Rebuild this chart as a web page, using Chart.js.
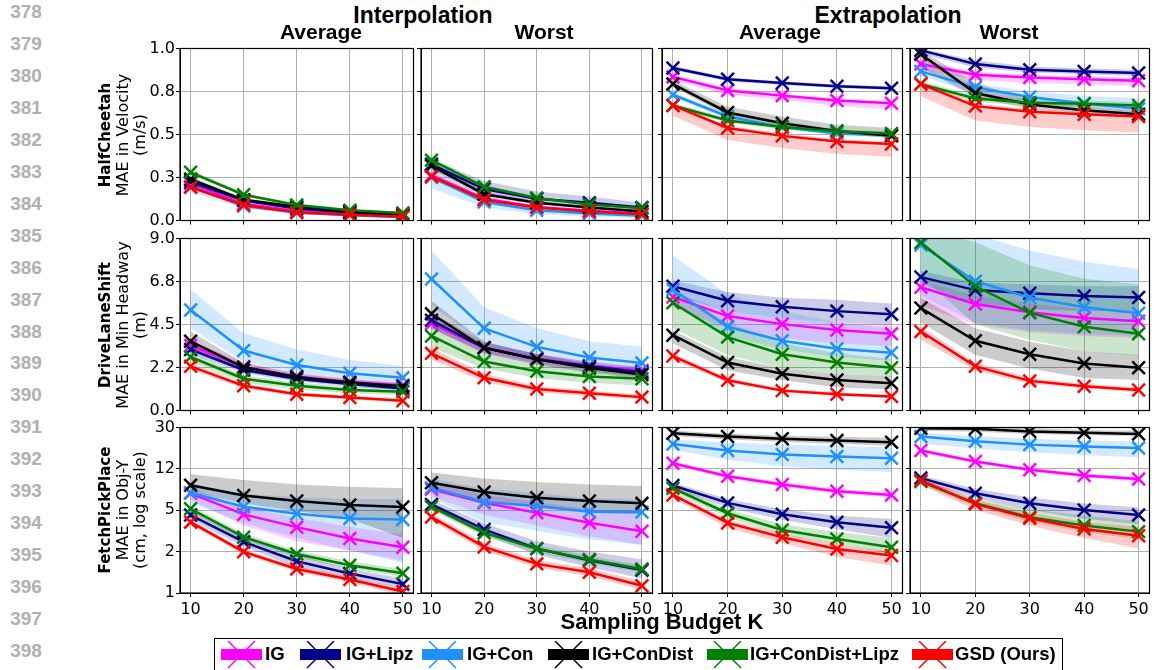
<!DOCTYPE html>
<html>
<head>
<meta charset="utf-8">
<script src="https://cdn.jsdelivr.net/npm/chart.js@4.4.1/dist/chart.umd.min.js"></script>
<style>
  html, body { margin: 0; padding: 0; background: #fff; }
  body { width: 1155px; height: 670px; overflow: hidden; position: relative; font-family: 'DejaVu Sans', sans-serif; }
  canvas { position: absolute; }
  .ln { position: absolute; left: 6px; width: 40px; text-align: center; font: bold 19px 'Liberation Sans', sans-serif; color: #b0b0b0; transform: translateY(-50%); }
  .title { position: absolute; transform: translate(-50%, -50%); font-family: 'Liberation Sans', sans-serif; font-weight: bold; color: #000; white-space: nowrap; }
  .rowlab { position: absolute; transform: translate(-50%, -50%) rotate(-90deg); text-align: center; white-space: nowrap; font: 16px/17px 'DejaVu Sans', sans-serif; color: #000; }
  .rowlab b { font-size: 15px; }
  .legbox { position: absolute; left: 214px; top: 638px; width: 849px; height: 34px; border: 1px solid #000; box-sizing: border-box; background: #fff; }
  .legtxt { position: absolute; top: 654px; transform: translateY(-50%); font: bold 18.5px 'Liberation Sans', sans-serif; color: #000; white-space: nowrap; }
</style>
</head>
<body>
<script>
// Sampling budgets on the x axis
const K = [10, 20, 30, 40, 50];
const METHODS = ['IG', 'IG+Lipz', 'IG+Con', 'IG+ConDist', 'IG+ConDist+Lipz', 'GSD (Ours)'];
const COLORS = ['#ff00ff', '#000088', '#1e90ff', '#000000', '#008000', '#ff0000'];
const BAND_COLORS = ['rgba(255,0,255,0.2)', 'rgba(0,0,136,0.2)', 'rgba(30,144,255,0.2)',
                     'rgba(0,0,0,0.2)', 'rgba(0,128,0,0.2)', 'rgba(255,0,0,0.2)'];

// Y tick values and their printed labels, one pair per task row
const HC_TICKS = [0, 0.25, 0.5, 0.75, 1];
const HC_TICK_LABELS = ['0.0', '0.3', '0.5', '0.8', '1.0'];
const DLS_TICKS = [0, 2.25, 4.5, 6.75, 9];
const DLS_TICK_LABELS = ['0.0', '2.2', '4.5', '6.8', '9.0'];
const FPP_TICKS = [1, 2.3403, 5.4772, 12.8184, 30];
const FPP_TICK_LABELS = ['1', '2', '5', '12', '30'];

// ---- HalfCheetah: MAE in velocity (m/s); rows follow METHODS ----
const hcInterpAvg = [
  [0.215, 0.097, 0.056, 0.037, 0.028],
  [0.225, 0.116, 0.070, 0.047, 0.032],
  [0.196, 0.084, 0.047, 0.030, 0.019],
  [0.240, 0.120, 0.080, 0.052, 0.034],
  [0.280, 0.150, 0.090, 0.060, 0.043],
  [0.193, 0.090, 0.047, 0.034, 0.022]];
const hcInterpAvgLo = [
  [0.200, 0.088, 0.050, 0.032, 0.024],
  [0.210, 0.107, 0.064, 0.042, 0.028],
  [0.165, 0.070, 0.038, 0.024, 0.014],
  [0.225, 0.110, 0.073, 0.047, 0.030],
  [0.265, 0.140, 0.084, 0.055, 0.039],
  [0.180, 0.083, 0.043, 0.030, 0.019]];
const hcInterpAvgHi = [
  [0.230, 0.106, 0.062, 0.042, 0.032],
  [0.240, 0.125, 0.076, 0.052, 0.036],
  [0.215, 0.094, 0.054, 0.035, 0.024],
  [0.255, 0.130, 0.087, 0.057, 0.038],
  [0.295, 0.160, 0.096, 0.065, 0.047],
  [0.206, 0.097, 0.051, 0.038, 0.025]];

const hcInterpWorst = [
  [0.262, 0.127, 0.078, 0.056, 0.041],
  [0.327, 0.183, 0.127, 0.103, 0.075],
  [0.252, 0.108, 0.060, 0.041, 0.028],
  [0.318, 0.153, 0.103, 0.075, 0.052],
  [0.351, 0.196, 0.131, 0.093, 0.071],
  [0.256, 0.121, 0.075, 0.052, 0.037]];
const hcInterpWorstLo = [
  [0.240, 0.115, 0.070, 0.050, 0.036],
  [0.300, 0.160, 0.105, 0.080, 0.055],
  [0.187, 0.075, 0.037, 0.022, 0.015],
  [0.295, 0.140, 0.093, 0.067, 0.046],
  [0.335, 0.185, 0.123, 0.087, 0.066],
  [0.235, 0.110, 0.068, 0.047, 0.033]];
const hcInterpWorstHi = [
  [0.285, 0.140, 0.087, 0.063, 0.047],
  [0.355, 0.230, 0.168, 0.140, 0.103],
  [0.300, 0.140, 0.085, 0.060, 0.045],
  [0.340, 0.167, 0.113, 0.083, 0.058],
  [0.365, 0.207, 0.139, 0.099, 0.076],
  [0.275, 0.132, 0.082, 0.057, 0.041]];

const hcExtrapAvg = [
  [0.835, 0.756, 0.726, 0.697, 0.682],
  [0.887, 0.821, 0.799, 0.780, 0.769],
  [0.731, 0.605, 0.543, 0.506, 0.496],
  [0.793, 0.628, 0.566, 0.521, 0.492],
  [0.669, 0.581, 0.543, 0.519, 0.506],
  [0.669, 0.538, 0.492, 0.459, 0.445]];
const hcExtrapAvgLo = [
  [0.815, 0.730, 0.700, 0.665, 0.647],
  [0.875, 0.810, 0.788, 0.770, 0.758],
  [0.715, 0.590, 0.530, 0.495, 0.483],
  [0.775, 0.610, 0.550, 0.505, 0.478],
  [0.655, 0.568, 0.530, 0.507, 0.494],
  [0.609, 0.468, 0.421, 0.387, 0.370]];
const hcExtrapAvgHi = [
  [0.850, 0.770, 0.740, 0.710, 0.695],
  [0.900, 0.832, 0.810, 0.790, 0.780],
  [0.745, 0.620, 0.556, 0.518, 0.508],
  [0.816, 0.662, 0.605, 0.556, 0.538],
  [0.683, 0.594, 0.556, 0.531, 0.518],
  [0.684, 0.553, 0.506, 0.473, 0.460]];

const hcExtrapWorst = [
  [0.910, 0.848, 0.831, 0.821, 0.812],
  [0.989, 0.910, 0.876, 0.867, 0.857],
  [0.867, 0.774, 0.718, 0.680, 0.650],
  [0.966, 0.741, 0.675, 0.641, 0.618],
  [0.793, 0.709, 0.684, 0.679, 0.669],
  [0.793, 0.665, 0.632, 0.618, 0.605]];
const hcExtrapWorstLo = [
  [0.880, 0.815, 0.800, 0.790, 0.780],
  [0.970, 0.890, 0.860, 0.850, 0.840],
  [0.840, 0.740, 0.690, 0.655, 0.625],
  [0.890, 0.715, 0.650, 0.620, 0.598],
  [0.775, 0.690, 0.665, 0.660, 0.650],
  [0.722, 0.581, 0.543, 0.524, 0.511]];
const hcExtrapWorstHi = [
  [0.930, 0.865, 0.848, 0.838, 0.830],
  [1.000, 0.930, 0.895, 0.885, 0.875],
  [0.890, 0.797, 0.750, 0.725, 0.712],
  [0.990, 0.800, 0.700, 0.662, 0.640],
  [0.810, 0.728, 0.703, 0.698, 0.688],
  [0.810, 0.680, 0.648, 0.634, 0.620]];

// ---- DriveLaneShift: MAE in min headway (m) ----
const dlsInterpAvg = [
  [3.40, 2.29, 1.78, 1.49, 1.32],
  [3.19, 2.12, 1.66, 1.38, 1.15],
  [5.26, 3.14, 2.38, 1.95, 1.71],
  [3.62, 2.26, 1.75, 1.46, 1.27],
  [2.80, 1.66, 1.29, 1.07, 0.98],
  [2.31, 1.29, 0.85, 0.68, 0.51]];
const dlsInterpAvgLo = [
  [3.15, 2.10, 1.62, 1.35, 1.18],
  [2.95, 1.95, 1.52, 1.26, 1.04],
  [4.30, 2.55, 1.95, 1.60, 1.40],
  [3.30, 2.05, 1.58, 1.32, 1.14],
  [2.55, 1.45, 1.10, 0.90, 0.80],
  [2.15, 1.17, 0.74, 0.58, 0.42]];
const dlsInterpAvgHi = [
  [3.65, 2.50, 1.95, 1.65, 1.47],
  [3.45, 2.30, 1.80, 1.50, 1.27],
  [6.33, 4.04, 3.19, 2.65, 2.31],
  [4.13, 2.50, 1.94, 1.62, 1.42],
  [3.05, 1.85, 1.47, 1.25, 1.15],
  [2.48, 1.42, 0.96, 0.78, 0.61]];

const dlsInterpWorst = [
  [4.55, 3.28, 2.72, 2.34, 2.09],
  [4.72, 3.28, 2.68, 2.31, 2.00],
  [6.88, 4.30, 3.33, 2.77, 2.48],
  [5.06, 3.28, 2.68, 2.22, 1.88],
  [3.90, 2.56, 2.05, 1.78, 1.66],
  [2.99, 1.71, 1.12, 0.90, 0.70]];
const dlsInterpWorstLo = [
  [4.25, 3.05, 2.50, 2.15, 1.90],
  [4.35, 3.00, 2.40, 2.05, 1.75],
  [5.50, 3.50, 2.70, 2.30, 2.10],
  [4.30, 2.95, 2.40, 1.98, 1.65],
  [3.30, 2.20, 1.70, 1.45, 1.30],
  [2.65, 1.50, 0.95, 0.75, 0.58]];
const dlsInterpWorstHi = [
  [4.85, 3.50, 2.95, 2.55, 2.30],
  [5.10, 3.60, 2.95, 2.55, 2.25],
  [8.37, 5.40, 4.30, 3.62, 3.33],
  [5.74, 3.60, 2.95, 2.45, 2.10],
  [4.40, 2.95, 2.40, 2.10, 1.95],
  [3.30, 1.92, 1.28, 1.05, 0.83]];

const dlsExtrapAvg = [
  [5.94, 4.94, 4.52, 4.21, 4.01],
  [6.50, 5.74, 5.43, 5.20, 5.03],
  [6.33, 4.38, 3.65, 3.23, 3.02],
  [3.94, 2.51, 1.92, 1.60, 1.43],
  [5.64, 3.84, 2.94, 2.51, 2.24],
  [2.85, 1.58, 1.04, 0.85, 0.73]];
const dlsExtrapAvgLo = [
  [5.40, 4.30, 3.80, 3.50, 3.36],
  [6.00, 5.20, 4.80, 4.60, 4.50],
  [5.60, 3.90, 3.20, 2.80, 2.60],
  [3.50, 2.10, 1.60, 1.20, 1.10],
  [4.30, 2.90, 2.20, 1.90, 1.80],
  [2.65, 1.45, 0.95, 0.75, 0.65]];
const dlsExtrapAvgHi = [
  [6.20, 5.20, 4.80, 4.60, 4.50],
  [6.80, 6.20, 5.90, 5.80, 5.60],
  [8.10, 6.10, 5.20, 4.60, 4.30],
  [4.20, 2.80, 2.20, 1.90, 1.80],
  [6.20, 4.60, 3.50, 3.00, 2.70],
  [3.00, 1.70, 1.15, 0.95, 0.82]];

const dlsExtrapWorst = [
  [6.45, 5.57, 5.14, 4.84, 4.67],
  [6.98, 6.30, 6.13, 5.99, 5.91],
  [8.66, 6.76, 5.91, 5.40, 5.09],
  [5.36, 3.65, 2.94, 2.46, 2.24],
  [8.79, 6.50, 5.11, 4.38, 4.01],
  [4.13, 2.31, 1.55, 1.27, 1.07]];
const dlsExtrapWorstLo = [
  [5.50, 4.50, 4.10, 3.90, 3.80],
  [6.60, 5.60, 5.30, 5.20, 5.20],
  [6.00, 4.60, 4.20, 4.00, 3.90],
  [4.60, 2.90, 2.20, 1.70, 1.60],
  [7.00, 4.50, 3.70, 3.10, 2.85],
  [3.70, 2.10, 1.40, 1.15, 0.95]];
const dlsExtrapWorstHi = [
  [6.80, 6.00, 5.60, 5.30, 5.20],
  [7.30, 6.70, 6.60, 6.50, 6.50],
  [10.50, 9.20, 8.37, 7.78, 7.40],
  [5.90, 4.30, 3.60, 3.10, 2.90],
  [9.50, 8.80, 7.60, 6.90, 6.60],
  [4.40, 2.50, 1.70, 1.40, 1.20]];

// ---- FetchPickPlace: MAE in Obj-Y (cm, log scale) ----
const fppInterpAvg = [
  [7.75, 5.03, 3.87, 3.06, 2.56],
  [4.96, 2.86, 1.92, 1.49, 1.20],
  [7.86, 5.89, 5.10, 4.63, 4.53],
  [9.14, 7.43, 6.62, 6.09, 5.85],
  [5.65, 3.15, 2.23, 1.77, 1.50],
  [4.29, 2.33, 1.64, 1.32, 1.03]];
const fppInterpAvgLo = [
  [6.80, 4.00, 2.90, 2.40, 1.95],
  [4.50, 2.60, 1.70, 1.35, 1.10],
  [6.40, 4.20, 3.10, 2.40, 1.85],
  [8.00, 6.30, 5.40, 4.60, 3.10],
  [5.25, 2.95, 2.08, 1.65, 1.40],
  [4.05, 2.20, 1.55, 1.24, 0.96]];
const fppInterpAvgHi = [
  [8.60, 5.90, 4.70, 3.90, 3.30],
  [5.60, 3.30, 2.20, 1.65, 1.35],
  [9.50, 7.70, 7.20, 6.90, 6.90],
  [11.50, 10.20, 9.30, 8.90, 8.60],
  [6.05, 3.40, 2.40, 1.92, 1.63],
  [4.52, 2.46, 1.73, 1.40, 1.10]];

const fppInterpWorst = [
  [8.42, 6.39, 5.20, 4.23, 3.56],
  [6.18, 3.69, 2.49, 1.96, 1.60],
  [8.71, 6.48, 5.97, 5.31, 5.27],
  [9.65, 7.97, 7.09, 6.62, 6.31],
  [5.89, 3.44, 2.48, 1.99, 1.64],
  [4.76, 2.58, 1.82, 1.53, 1.16]];
const fppInterpWorstLo = [
  [7.30, 5.00, 4.00, 3.20, 2.70],
  [5.60, 3.30, 2.20, 1.70, 1.35],
  [7.00, 4.30, 3.60, 3.00, 2.70],
  [8.40, 6.60, 5.80, 5.30, 5.00],
  [5.50, 3.20, 2.30, 1.85, 1.52],
  [4.40, 2.38, 1.68, 1.41, 1.06]];
const fppInterpWorstHi = [
  [9.50, 7.50, 6.50, 5.60, 4.90],
  [6.80, 4.20, 2.90, 2.35, 2.00],
  [10.50, 8.50, 7.80, 7.00, 6.90],
  [11.90, 10.50, 9.80, 9.30, 9.00],
  [6.30, 3.70, 2.67, 2.14, 1.77],
  [5.15, 2.80, 1.97, 1.66, 1.27]];

const fppExtrapAvg = [
  [14.40, 11.00, 9.29, 8.10, 7.50],
  [9.10, 6.37, 5.04, 4.28, 3.83],
  [21.40, 18.70, 17.20, 16.50, 15.96],
  [26.70, 24.90, 23.80, 22.96, 22.20],
  [8.61, 5.15, 3.65, 3.04, 2.56],
  [7.50, 4.22, 3.14, 2.47, 2.16]];
const fppExtrapAvgLo = [
  [13.70, 10.50, 8.85, 7.70, 7.10],
  [8.50, 5.80, 4.50, 3.70, 3.10],
  [19.00, 15.50, 13.50, 12.60, 12.00],
  [25.20, 23.50, 22.30, 21.50, 20.50],
  [8.00, 4.70, 3.30, 2.70, 2.25],
  [7.00, 3.80, 2.80, 2.10, 1.75]];
const fppExtrapAvgHi = [
  [15.10, 11.50, 9.75, 8.50, 7.90],
  [9.70, 6.90, 5.60, 4.90, 4.60],
  [23.50, 22.00, 21.00, 20.50, 20.00],
  [28.20, 26.40, 25.50, 24.80, 24.30],
  [9.30, 5.60, 4.10, 3.50, 3.10],
  [8.00, 4.50, 3.40, 2.70, 2.35]];

const fppExtrapWorst = [
  [18.70, 14.90, 12.60, 11.20, 10.40],
  [10.60, 7.77, 6.32, 5.51, 4.98],
  [24.90, 22.60, 21.10, 20.30, 19.70],
  [29.60, 29.20, 27.60, 26.90, 26.30],
  [9.88, 6.32, 4.74, 4.00, 3.53],
  [10.10, 6.24, 4.65, 3.73, 3.25]];
const fppExtrapWorstLo = [
  [17.90, 14.30, 12.10, 10.70, 9.90],
  [10.00, 7.00, 5.50, 4.60, 4.10],
  [21.50, 19.50, 18.00, 17.00, 16.30],
  [28.00, 27.50, 26.30, 25.70, 25.00],
  [9.30, 5.90, 4.30, 3.50, 3.00],
  [9.20, 5.50, 4.00, 3.10, 2.50]];
const fppExtrapWorstHi = [
  [19.50, 15.50, 13.10, 11.70, 10.90],
  [11.20, 8.50, 7.10, 6.30, 5.80],
  [27.00, 25.00, 23.80, 23.00, 22.50],
  [31.50, 31.00, 29.50, 28.50, 28.00],
  [10.40, 6.90, 5.60, 4.90, 4.40],
  [10.80, 6.80, 5.20, 4.30, 3.90]];

// ---- page layout (pixels) ----
const COL_BOUNDS = [[180, 417], [421, 656], [662, 906], [910, 1153]];
const ROW_BOUNDS = [[47, 224], [237, 414], [426, 593]];
const ROW_AXES = [
  { type: 'linear', min: 0, max: 1, ticks: HC_TICKS, labels: HC_TICK_LABELS },
  { type: 'linear', min: 0, max: 9, ticks: DLS_TICKS, labels: DLS_TICK_LABELS },
  { type: 'logarithmic', min: 1, max: 30, ticks: FPP_TICKS, labels: FPP_TICK_LABELS }];

const PANELS = [
  { row: 0, col: 0, mean: hcInterpAvg, lo: hcInterpAvgLo, hi: hcInterpAvgHi },
  { row: 0, col: 1, mean: hcInterpWorst, lo: hcInterpWorstLo, hi: hcInterpWorstHi },
  { row: 0, col: 2, mean: hcExtrapAvg, lo: hcExtrapAvgLo, hi: hcExtrapAvgHi },
  { row: 0, col: 3, mean: hcExtrapWorst, lo: hcExtrapWorstLo, hi: hcExtrapWorstHi },
  { row: 1, col: 0, mean: dlsInterpAvg, lo: dlsInterpAvgLo, hi: dlsInterpAvgHi },
  { row: 1, col: 1, mean: dlsInterpWorst, lo: dlsInterpWorstLo, hi: dlsInterpWorstHi },
  { row: 1, col: 2, mean: dlsExtrapAvg, lo: dlsExtrapAvgLo, hi: dlsExtrapAvgHi },
  { row: 1, col: 3, mean: dlsExtrapWorst, lo: dlsExtrapWorstLo, hi: dlsExtrapWorstHi },
  { row: 2, col: 0, mean: fppInterpAvg, lo: fppInterpAvgLo, hi: fppInterpAvgHi },
  { row: 2, col: 1, mean: fppInterpWorst, lo: fppInterpWorstLo, hi: fppInterpWorstHi },
  { row: 2, col: 2, mean: fppExtrapAvg, lo: fppExtrapAvgLo, hi: fppExtrapAvgHi },
  { row: 2, col: 3, mean: fppExtrapWorst, lo: fppExtrapWorstLo, hi: fppExtrapWorstHi }];

// Full black frame around each axes box, drawn over the data like spines
const framePlugin = {
  id: 'frame',
  afterDraw(chart) {
    const { ctx, chartArea: a } = chart;
    ctx.save();
    ctx.strokeStyle = '#000';
    ctx.lineWidth = 1.2;
    ctx.strokeRect(a.left, a.top, a.right - a.left, a.bottom - a.top);
    ctx.restore();
  }
};

const pts = arr => K.map((k, i) => ({ x: k, y: arr[i] }));

function makePanel(p) {
  const [L, R] = COL_BOUNDS[p.col];
  const [T, B] = ROW_BOUNDS[p.row];
  const AXW = 45, PT = 10, PR = 8;
  const XH = p.row === 2 ? 30 : 8;
  const w = R - L + AXW + PR, h = B - T + PT + XH;
  const cv = document.createElement('canvas');
  cv.width = w; cv.height = h;
  cv.style.left = (L - AXW) + 'px';
  cv.style.top = (T - PT) + 'px';
  cv.style.width = w + 'px';
  cv.style.height = h + 'px';
  document.body.appendChild(cv);

  const datasets = [];
  METHODS.forEach((name, m) => {
    const lowIdx = datasets.length;
    datasets.push({
      label: name + ' low', data: pts(p.lo[m]), borderWidth: 0, borderColor: 'rgba(0,0,0,0)',
      pointRadius: 0, fill: false, order: 20 + (5 - m)
    });
    datasets.push({
      label: name + ' high', data: pts(p.hi[m]), borderWidth: 0, borderColor: 'rgba(0,0,0,0)',
      pointRadius: 0, fill: { target: lowIdx }, backgroundColor: BAND_COLORS[m], order: 20 + (5 - m)
    });
  });
  METHODS.forEach((name, m) => {
    datasets.push({
      label: name, data: pts(p.mean[m]), borderColor: COLORS[m], backgroundColor: COLORS[m],
      borderWidth: 2.5, pointStyle: 'crossRot', pointRadius: 9, pointBorderWidth: 2.5,
      pointBorderColor: COLORS[m], fill: false, order: 5 - m, clip: 0
    });
  });

  const ax = ROW_AXES[p.row];
  new Chart(cv, {
    type: 'line',
    data: { datasets },
    plugins: [framePlugin],
    options: {
      responsive: false, animation: false, devicePixelRatio: 1,
      layout: { padding: { top: PT, right: PR, left: 0, bottom: 0 } },
      plugins: { legend: { display: false }, tooltip: { enabled: false } },
      elements: { line: { tension: 0 } },
      scales: {
        x: {
          type: 'linear', min: 8, max: 52,
          afterBuildTicks: s => { s.ticks = K.map(v => ({ value: v })); },
          afterFit: s => { s.height = XH; },
          grid: { color: '#b0b0b0', lineWidth: 1, tickColor: '#000', tickLength: 4, drawTicks: true },
          border: { display: true, color: '#000', width: 1 },
          ticks: {
            display: p.row === 2, color: '#000', padding: 3, maxRotation: 0, autoSkip: false,
            font: { family: 'DejaVu Sans', size: 16 }, callback: v => String(v)
          }
        },
        y: {
          type: ax.type, min: ax.min, max: ax.max,
          afterBuildTicks: s => { s.ticks = ax.ticks.map(v => ({ value: v })); },
          afterFit: s => { s.width = AXW; },
          grid: { color: '#b0b0b0', lineWidth: 1, tickColor: '#000', tickLength: 4, drawTicks: true },
          border: { display: true, color: '#000', width: 1 },
          ticks: {
            display: p.col === 0, color: '#000', padding: 1, autoSkip: false,
            font: { family: 'DejaVu Sans', size: 16 }, callback: (v, i) => ax.labels[i]
          }
        }
      }
    }
  });
}

PANELS.forEach(makePanel);

// ---- text around the grid ----
function addDiv(cls, html, style) {
  const d = document.createElement('div');
  d.className = cls;
  d.innerHTML = html;
  Object.assign(d.style, style);
  document.body.appendChild(d);
  return d;
}

// manuscript line numbers down the left margin
for (let n = 378; n <= 398; n++) {
  addDiv('ln', String(n), { top: (12 + (n - 378) * 31.95) + 'px' });
}

addDiv('title', 'Interpolation', { left: '423px', top: '15px', fontSize: '23px' });
addDiv('title', 'Extrapolation', { left: '888px', top: '15px', fontSize: '23px' });
addDiv('title', 'Average', { left: '321px', top: '32px', fontSize: '21px' });
addDiv('title', 'Worst', { left: '544px', top: '32px', fontSize: '21px' });
addDiv('title', 'Average', { left: '780px', top: '32px', fontSize: '21px' });
addDiv('title', 'Worst', { left: '1009px', top: '32px', fontSize: '21px' });
addDiv('title', 'Sampling Budget K', { left: '662px', top: '622px', fontSize: '22px' });

addDiv('rowlab', '<b>HalfCheetah</b><br>MAE in Velocity<br>(m/s)', { left: '122px', top: '135px' });
addDiv('rowlab', '<b>DriveLaneShift</b><br>MAE in Min Headway<br>(m)', { left: '122px', top: '325px' });
addDiv('rowlab', '<b>FetchPickPlace</b><br>MAE in Obj-Y<br>(cm, log scale)', { left: '122px', top: '510px' });

// ---- legend ----
addDiv('legbox', '', {});
const LEG_PATCH_X = [221, 300, 422, 548, 707, 912];
const LEG_TEXT_X = [265, 346, 467, 592, 750, 955];
METHODS.forEach((name, m) => {
  const c = document.createElement('canvas');
  c.width = 41; c.height = 28;
  c.style.left = LEG_PATCH_X[m] + 'px';
  c.style.top = '641px';
  document.body.appendChild(c);
  const g = c.getContext('2d');
  g.fillStyle = COLORS[m];
  g.fillRect(0, 8, 41, 11);
  g.strokeStyle = COLORS[m];
  g.lineWidth = 1.5;
  g.beginPath();
  g.moveTo(7, 0); g.lineTo(34, 27);
  g.moveTo(34, 0); g.lineTo(7, 27);
  g.stroke();
  addDiv('legtxt', name, { left: LEG_TEXT_X[m] + 'px' });
});
</script>
</body>
</html>
